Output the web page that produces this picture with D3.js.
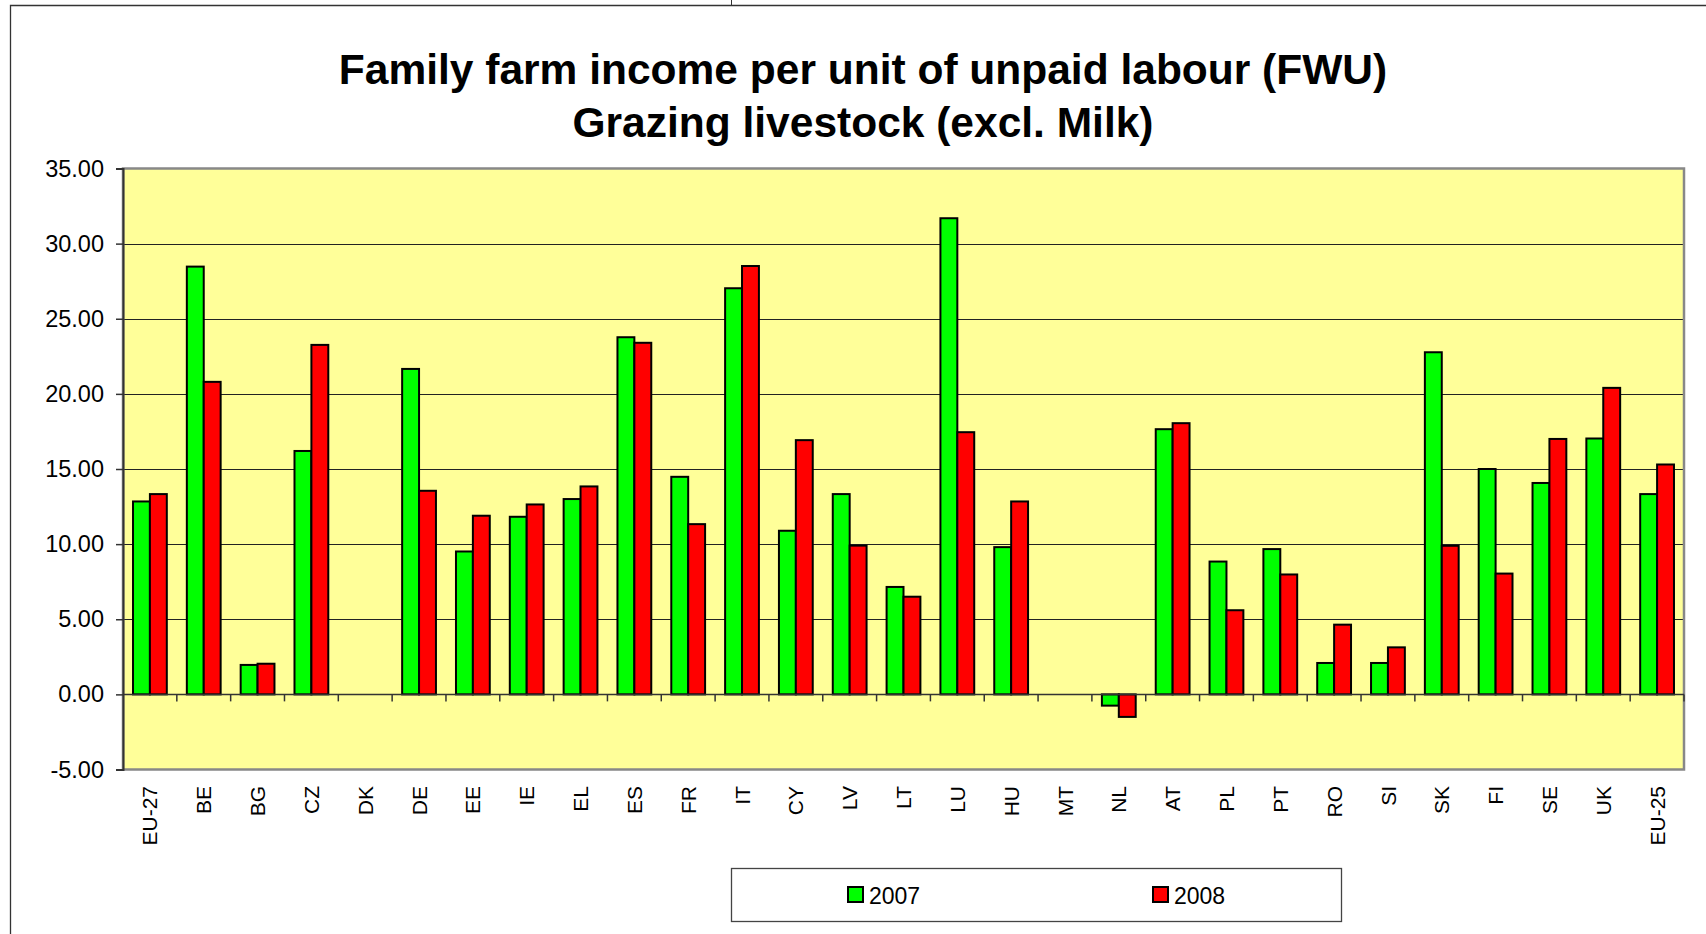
<!DOCTYPE html>
<html>
<head>
<meta charset="utf-8">
<script src="https://cdn.jsdelivr.net/npm/d3@7"></script>
<style>
  body { margin: 0; background: #fff; }
  text { font-family: "Liberation Sans", Arial, sans-serif; }
</style>
</head>
<body>
<script>
// data
let countries = ["EU-27", "BE", "BG", "CZ", "DK", "DE", "EE", "IE", "EL", "ES",
                 "FR", "IT", "CY", "LV", "LT", "LU", "HU", "MT", "NL", "AT",
                 "PL", "PT", "RO", "SI", "SK", "FI", "SE", "UK", "EU-25"];
let v2007 = [12.84, 28.47, 1.96, 16.2, null, 21.66, 9.51, 11.82, 13.0, 23.77,
             14.48, 27.03, 10.89, 13.33, 7.15, 31.69, 9.8, null, -0.75, 17.65,
             8.84, 9.67, 2.09, 2.09, 22.77, 15.0, 14.07, 17.03, 13.33];
let v2008 = [13.33, 20.8, 2.04, 23.26, null, 13.55, 11.89, 12.64, 13.84, 23.4,
             11.33, 28.51, 16.92, 9.9, 6.5, 17.45, 12.84, null, -1.5, 18.05,
             5.6, 7.98, 4.64, 3.13, 9.89, 8.04, 17.0, 20.4, 15.3];
let seriesNames = ["2007", "2008"];
let seriesColors = ["#00ff00", "#ff0000"];
let yTicks = [-5, 0, 5, 10, 15, 20, 25, 30, 35];
let titleLines = ["Family farm income per unit of unpaid labour (FWU)",
                  "Grazing livestock (excl. Milk)"];

let W = 1706, H = 934;
let plot = { left: 123, right: 1684, top: 168.5, bottom: 769.5 };

let svg = d3.select("body").append("svg")
    .attr("width", W)
    .attr("height", H);

// outer chart frame (only top and left show in the picture)
svg.append("path")
    .attr("d", "M10.5," + H + " V5.5 H" + W)
    .attr("fill", "none")
    .attr("stroke", "#333")
    .attr("stroke-width", 1.3);
svg.append("line")
    .attr("x1", 731.5).attr("x2", 731.5)
    .attr("y1", 0).attr("y2", 5)
    .attr("stroke", "#333");

// title
svg.selectAll("text.title")
    .data(titleLines)
    .enter().append("text")
    .attr("class", "title")
    .attr("x", 863)
    .attr("y", (d, i) => 84 + i * 53)
    .attr("text-anchor", "middle")
    .attr("font-size", 42.5)
    .attr("font-weight", "bold")
    .text(d => d);

let xScale = d3.scaleBand()
    .domain(countries)
    .range([plot.left, plot.right])
    .paddingInner(0.372)
    .paddingOuter(0.186);

let xSub = d3.scaleBand()
    .domain([0, 1])
    .range([0, xScale.bandwidth()]);

let yScale = d3.scaleLinear()
    .domain([-5, 35])
    .range([plot.bottom, plot.top]);

// plot background
svg.append("rect")
    .attr("x", plot.left)
    .attr("y", plot.top)
    .attr("width", plot.right - plot.left)
    .attr("height", plot.bottom - plot.top)
    .attr("fill", "#ffff99");

// gridlines
svg.append("g")
    .selectAll("line")
    .data(yTicks.filter(d => d > -5 && d < 35))
    .enter().append("line")
    .attr("x1", plot.left).attr("x2", plot.right)
    .attr("y1", d => Math.round(yScale(d)) + 0.5)
    .attr("y2", d => Math.round(yScale(d)) + 0.5)
    .attr("stroke", "#222")
    .attr("stroke-width", 1.2);

// plot border
svg.append("rect")
    .attr("x", plot.left)
    .attr("y", plot.top)
    .attr("width", plot.right - plot.left)
    .attr("height", plot.bottom - plot.top)
    .attr("fill", "none")
    .attr("stroke", "#888")
    .attr("stroke-width", 2.5);

// bars
let rows = countries.map((c, i) => ({ c: c, vals: [v2007[i], v2008[i]] }));
let groups = svg.append("g")
    .selectAll("g")
    .data(rows)
    .enter().append("g")
    .attr("transform", d => "translate(" + xScale(d.c) + ",0)");

groups.selectAll("rect")
    .data(d => d.vals.map((v, k) => ({ v: v, k: k })).filter(e => e.v !== null))
    .enter().append("rect")
    .attr("x", d => xSub(d.k))
    .attr("y", d => yScale(Math.max(0, d.v)))
    .attr("width", xSub.bandwidth())
    .attr("height", d => Math.abs(yScale(d.v) - yScale(0)))
    .attr("fill", d => seriesColors[d.k])
    .attr("stroke", "#000")
    .attr("stroke-width", 2);

// y axis
let yAxis = svg.append("g")
    .attr("transform", "translate(" + plot.left + ",0)")
    .call(d3.axisLeft(yScale)
      .tickValues(yTicks)
      .tickFormat(d => d.toFixed(2))   // plain hyphen for -5.00
      .tickSize(7)
      .tickPadding(12));
yAxis.select(".domain").attr("stroke", "#333").attr("stroke-width", 2);
yAxis.selectAll(".tick line").attr("stroke", "#333").attr("stroke-width", 1.5);
yAxis.selectAll(".tick text")
    .attr("font-size", 23.5)
    .attr("fill", "#000")
    .style("font-family", "'Liberation Sans', Arial, sans-serif");

// category axis on the zero line, ticks at the boundaries
let zeroY = yScale(0);
svg.append("line")
    .attr("x1", plot.left).attr("x2", plot.right)
    .attr("y1", zeroY).attr("y2", zeroY)
    .attr("stroke", "#333")
    .attr("stroke-width", 1.5);
let step = xScale.step();
svg.append("g")
    .selectAll("line")
    .data(d3.range(1, countries.length + 1))
    .enter().append("line")
    .attr("x1", i => plot.left + i * step)
    .attr("x2", i => plot.left + i * step)
    .attr("y1", zeroY)
    .attr("y2", zeroY + 7)
    .attr("stroke", "#333")
    .attr("stroke-width", 1.5);

// category labels, rotated
svg.append("g")
    .selectAll("text")
    .data(countries)
    .enter().append("text")
    .attr("transform", d => "translate(" + (xScale(d) + xScale.bandwidth() / 2) + ",786) rotate(-90)")
    .attr("text-anchor", "end")
    .attr("dy", "0.36em")
    .attr("font-size", 21)
    .text(d => d);

// legend
let legend = svg.append("g");
legend.append("rect")
    .attr("x", 731.5).attr("y", 868.5)
    .attr("width", 610).attr("height", 53)
    .attr("fill", "#fff")
    .attr("stroke", "#444")
    .attr("stroke-width", 1.3);
let legX = [848, 1153];
let items = legend.selectAll("g")
    .data(seriesNames)
    .enter().append("g")
    .attr("transform", (d, i) => "translate(" + legX[i] + ",887)");
items.append("rect")
    .attr("width", 15).attr("height", 15)
    .attr("fill", (d, i) => seriesColors[i])
    .attr("stroke", "#000")
    .attr("stroke-width", 2);
items.append("text")
    .attr("x", 21)
    .attr("y", 17)
    .attr("font-size", 23)
    .text(d => d);
</script>
</body>
</html>
